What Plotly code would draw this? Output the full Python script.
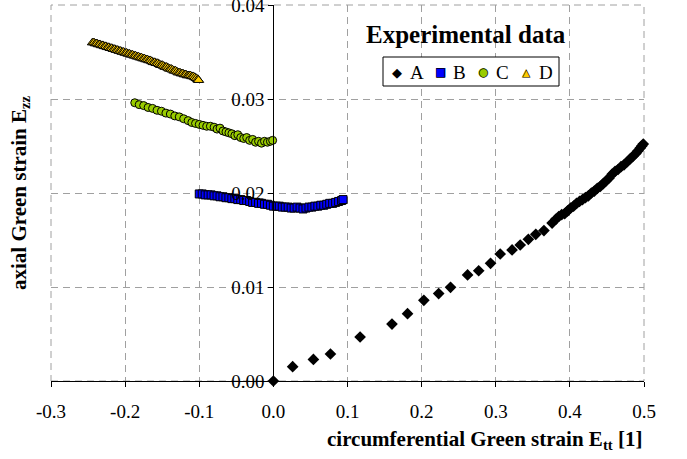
import plotly.graph_objects as go

# ---- data ----
A_x = [0.000, 0.026, 0.054, 0.077, 0.117, 0.160, 0.181, 0.203, 0.223, 0.239, 0.262, 0.277,
       0.293, 0.306, 0.322, 0.333, 0.344, 0.354, 0.365, 0.376, 0.381, 0.385, 0.389, 0.393,
       0.397, 0.401, 0.405, 0.409, 0.413, 0.417, 0.421, 0.425, 0.429, 0.433, 0.437, 0.441,
       0.445, 0.449, 0.453, 0.457, 0.461, 0.465, 0.469, 0.473, 0.477, 0.481, 0.485, 0.489,
       0.492, 0.495, 0.497, 0.499]
A_y = [0.0000, 0.00152, 0.0023, 0.00287, 0.00468, 0.00606, 0.00716, 0.00858, 0.00930, 0.00997,
       0.01128, 0.01173, 0.01252, 0.01351, 0.01394, 0.01447, 0.01507, 0.0156, 0.0160, 0.0168,
       0.0172, 0.0175, 0.0177, 0.0178, 0.0181, 0.0184, 0.0186, 0.0189, 0.0191, 0.0193, 0.0195,
       0.0197, 0.0200, 0.0202, 0.0205, 0.0207, 0.0210, 0.0213, 0.0216, 0.0220, 0.0223, 0.0225,
       0.0228, 0.0230, 0.0233, 0.0236, 0.0239, 0.0242, 0.0245, 0.0248, 0.0250, 0.0252]

B_x = [-0.100, -0.096, -0.092, -0.088, -0.084, -0.080, -0.076, -0.072, -0.068, -0.064,
       -0.060, -0.056, -0.052, -0.048, -0.044, -0.040, -0.036, -0.032, -0.028, -0.024,
       -0.020, -0.016, -0.012, -0.008, -0.004, 0.000, 0.004, 0.008, 0.012, 0.016,
       0.020, 0.024, 0.028, 0.032, 0.036, 0.040, 0.044, 0.048, 0.052, 0.056,
       0.060, 0.064, 0.068, 0.072, 0.076, 0.080, 0.084, 0.088, 0.092, 0.094]
B_y = [0.0199, 0.0199, 0.0198, 0.0198, 0.0198, 0.0197, 0.0197, 0.0196, 0.0196, 0.0195,
       0.0195, 0.0194, 0.0194, 0.0193, 0.0193, 0.0192, 0.0192, 0.0191, 0.0190, 0.0190,
       0.0189, 0.0189, 0.0188, 0.0188, 0.0187, 0.0186, 0.0186, 0.0186, 0.0185, 0.0185,
       0.0185, 0.0184, 0.0184, 0.0185, 0.0184, 0.0183, 0.0184, 0.0185, 0.0185, 0.0186,
       0.0186, 0.0187, 0.0187, 0.0188, 0.0189, 0.0189, 0.0190, 0.0191, 0.0192, 0.0193]

C_x = [-0.187, -0.181, -0.175, -0.169, -0.163, -0.157, -0.151, -0.145, -0.139, -0.133,
       -0.127, -0.121, -0.115, -0.110, -0.105, -0.100, -0.095, -0.090, -0.085, -0.080,
       -0.076, -0.072, -0.068, -0.064, -0.060, -0.056, -0.052, -0.048, -0.044, -0.040,
       -0.036, -0.032, -0.028, -0.024, -0.020, -0.016, -0.012, -0.008, -0.004, -0.001]
C_y = [0.0296, 0.0294, 0.0293, 0.0291, 0.0290, 0.0288, 0.0287, 0.0285, 0.0284, 0.0282,
       0.0281, 0.0279, 0.0277, 0.0275, 0.0274, 0.0273, 0.0272, 0.0271, 0.0271, 0.0270,
       0.0268, 0.0269, 0.0266, 0.0265, 0.0264, 0.0263, 0.0261, 0.0262, 0.0259, 0.0258,
       0.0259, 0.0256, 0.0257, 0.0254, 0.0255, 0.0253, 0.0255, 0.0254, 0.0255, 0.0256]

D_x = [-0.244, -0.242, -0.240, -0.238, -0.236, -0.234, -0.232, -0.230, -0.228, -0.226,
       -0.224, -0.222, -0.220, -0.218, -0.216, -0.214, -0.212, -0.210, -0.208, -0.206,
       -0.204, -0.202, -0.200, -0.198, -0.196, -0.194, -0.192, -0.190, -0.188, -0.186,
       -0.184, -0.182, -0.180, -0.178, -0.176, -0.174, -0.172, -0.170, -0.168, -0.166,
       -0.164, -0.162, -0.160, -0.158, -0.156, -0.154, -0.152, -0.150, -0.148, -0.146,
       -0.144, -0.142, -0.140, -0.138, -0.136, -0.134, -0.132, -0.130, -0.128, -0.126,
       -0.124, -0.122, -0.120, -0.118, -0.116, -0.114, -0.112, -0.110, -0.108, -0.106,
       -0.104, -0.102, -0.101]
D_y = [0.0360, 0.0360, 0.0359, 0.0359, 0.0358, 0.0358, 0.0357, 0.0357, 0.0356, 0.0356,
       0.0355, 0.0355, 0.0354, 0.0354, 0.0353, 0.0353, 0.0352, 0.0352, 0.0351, 0.0351,
       0.0350, 0.0350, 0.0349, 0.0349, 0.0348, 0.0348, 0.0347, 0.0347, 0.0346, 0.0346,
       0.0345, 0.0345, 0.0344, 0.0344, 0.0343, 0.0343, 0.0342, 0.0342, 0.0341, 0.0341,
       0.0340, 0.0339, 0.0339, 0.0338, 0.0338, 0.0337, 0.0336, 0.0336, 0.0335, 0.0334,
       0.0334, 0.0333, 0.0332, 0.0332, 0.0331, 0.0330, 0.0330, 0.0329, 0.0328, 0.0328,
       0.0327, 0.0327, 0.0326, 0.0326, 0.0325, 0.0325, 0.0325, 0.0324, 0.0324, 0.0323,
       0.0322, 0.0321, 0.0320]

series_names = ["A", "B", "C", "D"]
x_tickvals = [-0.3, -0.2, -0.1, 0.0, 0.1, 0.2, 0.3, 0.4, 0.5]
x_ticktext = ["-0.3", "-0.2", "-0.1", "0.0", "0.1", "0.2", "0.3", "0.4", "0.5"]
y_tickvals = [0.0, 0.01, 0.02, 0.03, 0.04]
y_ticktext = ["0.00", "0.01", "0.02", "0.03", "0.04"]

FONT = "Liberation Serif, Times New Roman, serif"
SYMFONT = "DejaVu Sans"
GRID = "#a0a0a0"

styles = [
    dict(symbol="diamond", size=9, color="black", line=dict(width=0)),
    dict(symbol="square", size=8, color="#0000ff", line=dict(width=1, color="black")),
    dict(symbol="circle", size=8, color="#99cc00", line=dict(width=1, color="black")),
    dict(symbol="triangle-up", size=9, color="#ffcc00", line=dict(width=1, color="black")),
]
xs = [A_x, B_x, C_x, D_x]
ys = [A_y, B_y, C_y, D_y]

fig = go.Figure()
for name, x, y, st in zip(series_names, xs, ys, styles):
    fig.add_trace(go.Scatter(x=x, y=y, mode="markers", name=name, marker=st,
                             showlegend=False, cliponaxis=False))

grid_kw = dict(showgrid=True, gridcolor=GRID, gridwidth=1, griddash="7px,5px")

# plot-area pixel geometry -> paper helpers (for legend decoration)
L, R, T, B = 51, 43, 5, 78
W, H = 687, 459
pw, ph = W - L - R, H - T - B
def px(xp):
    return (xp - L) / pw
def py(yp):
    return (H - B - yp) / ph

annotations = [
    dict(text="<b>Experimental data</b>", x=px(466), y=py(35), xref="paper", yref="paper",
         xanchor="center", yanchor="middle", showarrow=False,
         font=dict(family=FONT, size=25)),
    dict(text="<b>circumferential Green strain E<sub>tt</sub> [1]</b>", x=1.0, y=py(440),
         xref="paper", yref="paper", xanchor="right", yanchor="middle",
         showarrow=False, font=dict(family=FONT, size=21)),
    dict(text="<b>axial Green strain E<sub>zz</sub></b>", x=px(20), y=0.5,
         xref="paper", yref="paper", xanchor="center", yanchor="middle",
         textangle=-90, showarrow=False, font=dict(family=FONT, size=21)),
]

# manual legend: glyph + outline glyph + label
glyph_fill = ["◆", "■", "●", "▲"]
glyph_outline = [None, "□", "○", "△"]
glyph_size = [13, 12, 12, 11]
sym_cx = [397, 440, 483, 526]
txt_x0 = [408, 451, 494, 537]
leg_cy = 72
for i, name in enumerate(series_names):
    col = styles[i]["color"]
    annotations.append(dict(text=glyph_fill[i], x=px(sym_cx[i]), y=py(leg_cy), xref="paper",
                            yref="paper", xanchor="center", yanchor="middle", showarrow=False,
                            font=dict(family=SYMFONT, size=glyph_size[i], color=col)))
    if glyph_outline[i]:
        annotations.append(dict(text=glyph_outline[i], x=px(sym_cx[i]), y=py(leg_cy),
                                xref="paper", yref="paper", xanchor="center",
                                yanchor="middle", showarrow=False,
                                font=dict(family=SYMFONT, size=glyph_size[i], color="black")))
    annotations.append(dict(text=name, x=px(txt_x0[i]), y=py(leg_cy), xref="paper",
                            yref="paper", xanchor="left", yanchor="middle", showarrow=False,
                            font=dict(family=FONT, size=19, color="black")))

fig.update_layout(
    width=W, height=H,
    margin=dict(l=L, r=R, t=T, b=B, autoexpand=False),
    paper_bgcolor="white", plot_bgcolor="white",
    font=dict(family=FONT, size=19, color="black"),
    xaxis=dict(range=[-0.3, 0.5], tickvals=x_tickvals, ticktext=x_ticktext,
               ticks="outside", ticklen=5, tickcolor="black",
               showline=True, linecolor="black", linewidth=1,
               zeroline=False, ticklabelstandoff=8, ticklabeloverflow="allow",
               tickfont=dict(family=FONT, size=19), **grid_kw),
    yaxis=dict(range=[0, 0.04], tickvals=y_tickvals, ticktext=y_ticktext,
               anchor="free", position=0.375,
               ticks="outside", ticklen=5, tickcolor="black",
               showline=True, linecolor="black", linewidth=1,
               zeroline=False, ticklabeloverflow="allow",
               tickfont=dict(family=FONT, size=19), **grid_kw),
    showlegend=False,
    shapes=[
        # dashed frame (grid lines at the range ends)
        dict(type="rect", xref="paper", yref="paper", x0=0, x1=1, y0=0, y1=1,
             line=dict(color=GRID, width=1, dash="7px,5px"), layer="below"),
        # legend box
        dict(type="rect", xref="paper", yref="paper",
             x0=px(383), x1=px(559), y0=py(86), y1=py(57),
             line=dict(color="black", width=1), fillcolor="white", layer="above"),
    ],
    annotations=annotations,
)

fig.write_html("out.html",
               config={"displayModeBar": False},
               post_script="document.body.style.margin='0px';"
                           "document.body.style.overflow='hidden';")
